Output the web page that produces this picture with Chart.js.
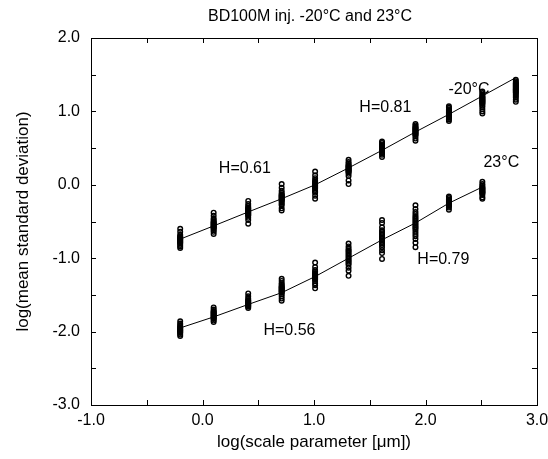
<!DOCTYPE html>
<html><head><meta charset="utf-8">
<script src="https://cdn.jsdelivr.net/npm/chart.js@4/dist/chart.umd.min.js"></script>
<style>html,body{margin:0;padding:0;background:#fff}</style>
</head><body><canvas id="c" width="548" height="459"></canvas>
<script>
// log(scale parameter) positions of the measurement clusters
const scaleX = [-0.20, 0.10, 0.41, 0.71, 1.01, 1.31, 1.61, 1.91, 2.21, 2.51, 2.81];

// -20°C: log(mean standard deviation) samples per scale
const coldSamples = [
  [-0.60, -0.64, -0.68, -0.70, -0.71, -0.72, -0.73, -0.74, -0.75, -0.76, -0.77, -0.78, -0.79, -0.80, -0.82, -0.84, -0.86],
  [-0.38, -0.42, -0.46, -0.48, -0.50, -0.51, -0.52, -0.53, -0.54, -0.55, -0.56, -0.57, -0.58, -0.59, -0.60, -0.62, -0.64, -0.67],
  [-0.22, -0.26, -0.29, -0.31, -0.32, -0.33, -0.34, -0.35, -0.36, -0.37, -0.38, -0.39, -0.40, -0.41, -0.42, -0.45, -0.48, -0.53],
  [0.01, -0.04, -0.08, -0.11, -0.13, -0.14, -0.15, -0.16, -0.17, -0.18, -0.19, -0.20, -0.21, -0.22, -0.24, -0.26, -0.28, -0.32, -0.35],
  [0.18, 0.13, 0.09, 0.06, 0.04, 0.03, 0.02, 0.01, 0.00, -0.01, -0.02, -0.03, -0.04, -0.05, -0.07, -0.09, -0.11, -0.15, -0.19],
  [0.34, 0.31, 0.29, 0.27, 0.26, 0.25, 0.24, 0.23, 0.22, 0.21, 0.20, 0.19, 0.18, 0.17, 0.15, 0.12, 0.06, 0.01],
  [0.59, 0.57, 0.55, 0.54, 0.53, 0.52, 0.51, 0.50, 0.49, 0.48, 0.47, 0.46, 0.45, 0.44, 0.43, 0.41, 0.38],
  [0.83, 0.81, 0.79, 0.78, 0.77, 0.76, 0.75, 0.74, 0.73, 0.72, 0.71, 0.70, 0.69, 0.68, 0.66, 0.63, 0.60],
  [1.07, 1.05, 1.03, 1.02, 1.01, 1.00, 0.99, 0.98, 0.97, 0.96, 0.95, 0.94, 0.93, 0.92, 0.91, 0.89, 0.87],
  [1.27, 1.25, 1.23, 1.21, 1.20, 1.19, 1.18, 1.17, 1.16, 1.15, 1.14, 1.13, 1.12, 1.11, 1.10, 1.08, 1.06, 1.03, 1.00, 0.97],
  [1.43, 1.41, 1.39, 1.38, 1.37, 1.36, 1.35, 1.34, 1.33, 1.32, 1.31, 1.30, 1.29, 1.28, 1.27, 1.26, 1.25, 1.23, 1.21, 1.19, 1.16, 1.13]
];
// 23°C samples (first ten scales)
const warmSamples = [
  [-1.86, -1.89, -1.91, -1.93, -1.94, -1.95, -1.96, -1.97, -1.98, -1.99, -2.00, -2.01, -2.02, -2.04, -2.06],
  [-1.67, -1.70, -1.72, -1.73, -1.74, -1.75, -1.76, -1.77, -1.78, -1.79, -1.80, -1.81, -1.82, -1.83, -1.85, -1.87],
  [-1.48, -1.52, -1.55, -1.57, -1.58, -1.59, -1.60, -1.61, -1.62, -1.63, -1.64, -1.65, -1.66, -1.68],
  [-1.28, -1.31, -1.34, -1.36, -1.38, -1.39, -1.40, -1.41, -1.42, -1.43, -1.44, -1.45, -1.46, -1.47, -1.49, -1.52, -1.55, -1.58],
  [-1.06, -1.12, -1.16, -1.18, -1.20, -1.21, -1.22, -1.23, -1.24, -1.25, -1.26, -1.27, -1.28, -1.29, -1.31, -1.34, -1.37, -1.41],
  [-0.80, -0.84, -0.87, -0.89, -0.91, -0.93, -0.95, -0.97, -0.99, -1.01, -1.03, -1.05, -1.07, -1.09, -1.13, -1.17, -1.24],
  [-0.48, -0.52, -0.58, -0.62, -0.64, -0.66, -0.68, -0.70, -0.72, -0.74, -0.76, -0.78, -0.80, -0.82, -0.85, -0.89, -0.93, -1.01],
  [-0.28, -0.33, -0.37, -0.40, -0.43, -0.45, -0.47, -0.49, -0.51, -0.53, -0.55, -0.57, -0.59, -0.61, -0.64, -0.67, -0.70, -0.74, -0.79, -0.85],
  [-0.16, -0.18, -0.20, -0.21, -0.22, -0.23, -0.24, -0.25, -0.26, -0.27, -0.28, -0.29, -0.31, -0.34],
  [0.04, 0.01, -0.01, -0.03, -0.04, -0.05, -0.06, -0.07, -0.08, -0.09, -0.10, -0.11, -0.12, -0.14, -0.17, -0.19]
];
// fitted lines
const coldFit = [-0.74, -0.56, -0.37, -0.19, 0.00, 0.23, 0.47, 0.72, 0.96, 1.21, 1.46];
const warmFit = [-1.95, -1.80, -1.63, -1.47, -1.25, -1.00, -0.75, -0.52, -0.25, -0.03];

const titleText = 'BD100M inj. -20°C and 23°C';
const xTitle = 'log(scale parameter [μm])';
const yTitle = 'log(mean standard deviation)';
const labelTexts = ['-20°C', 'H=0.81', '23°C', 'H=0.61', 'H=0.79', 'H=0.56'];
const labelX = [2.39, 1.64, 2.68, 0.38, 2.16, 0.78];
const labelY = [1.30, 1.05, 0.30, 0.22, -1.02, -1.98];

const FONT = '"Liberation Sans", Arial, Helvetica, sans-serif';

function toPoints(samples) {
  const pts = [];
  samples.forEach((arr, i) => arr.forEach(v => pts.push({x: scaleX[i], y: v})));
  return pts;
}
function toLine(fit) { return fit.map((v, i) => ({x: scaleX[i], y: v})); }

const framePlugin = {
  id: 'frame',
  afterDraw(chart) {
    const {ctx, chartArea: a, scales: {x, y}} = chart;
    ctx.save();
    ctx.strokeStyle = '#000';
    ctx.lineWidth = 1;
    ctx.strokeRect(Math.round(a.left) + 0.5, Math.round(a.top) + 0.5, Math.round(a.right - a.left), Math.round(a.bottom - a.top));
    const L = 5;
    ctx.beginPath();
    for (let v = -1; v <= 3.001; v += 0.5) {
      const px = Math.round(x.getPixelForValue(v)) + 0.5;
      ctx.moveTo(px, a.bottom); ctx.lineTo(px, a.bottom - L);
      ctx.moveTo(px, a.top); ctx.lineTo(px, a.top + L);
    }
    for (let v = -3; v <= 2.001; v += 0.5) {
      const py = Math.round(y.getPixelForValue(v)) + 0.5;
      ctx.moveTo(a.left, py); ctx.lineTo(a.left + L, py);
      ctx.moveTo(a.right, py); ctx.lineTo(a.right - L, py);
    }
    ctx.stroke();
    ctx.fillStyle = '#000';
    ctx.textAlign = 'center';
    ctx.textBaseline = 'middle';
    ctx.font = '16px ' + FONT;
    labelTexts.forEach((t, i) => {
      ctx.fillText(t, x.getPixelForValue(labelX[i]), y.getPixelForValue(labelY[i]));
    });
    ctx.fillText(titleText, (a.left + a.right) / 2 - 4, 17);
    ctx.restore();
  }
};

new Chart(document.getElementById('c'), {
  type: 'scatter',
  data: {
    datasets: [
      {data: toPoints(coldSamples), showLine: false, pointRadius: 2.3, pointStyle: 'circle',
       borderColor: '#000', backgroundColor: 'rgba(0,0,0,0)', pointBorderWidth: 1.4},
      {data: toPoints(warmSamples), showLine: false, pointRadius: 2.3, pointStyle: 'circle',
       borderColor: '#000', backgroundColor: 'rgba(0,0,0,0)', pointBorderWidth: 1.4},
      {data: toLine(coldFit), showLine: true, pointRadius: 0, borderColor: '#000', borderWidth: 1, tension: 0},
      {data: toLine(warmFit), showLine: true, pointRadius: 0, borderColor: '#000', borderWidth: 1, tension: 0}
    ]
  },
  options: {
    responsive: false,
    animation: false,
    devicePixelRatio: 1,
    layout: {padding: {left: 0, right: 11, top: 38, bottom: 0}},
    plugins: {legend: {display: false}, tooltip: {enabled: false}, title: {display: false}},
    scales: {
      x: {
        type: 'linear', min: -1, max: 3,
        grid: {display: false, drawTicks: false}, border: {display: false},
        ticks: {stepSize: 1, color: '#000', padding: 6, maxRotation: 0,
                font: {family: FONT, size: 16}, callback: v => v.toFixed(1)},
        title: {display: true, text: xTitle, color: '#000', font: {family: FONT, size: 17},
                padding: {top: 0, bottom: 6}},
        afterFit: s => { s.height = 54; s.paddingLeft = 0; s.paddingRight = 0; }
      },
      y: {
        type: 'linear', min: -3, max: 2,
        grid: {display: false, drawTicks: false}, border: {display: false},
        ticks: {stepSize: 1, color: '#000', padding: 11,
                font: {family: FONT, size: 16}, callback: v => v.toFixed(1)},
        title: {display: true, text: yTitle, color: '#000', font: {family: FONT, size: 17},
                padding: {top: 13, bottom: 0}},
        afterFit: s => { s.width = 91; s.paddingTop = 0; s.paddingBottom = 0; }
      }
    }
  },
  plugins: [framePlugin]
});
</script>
</body></html>
